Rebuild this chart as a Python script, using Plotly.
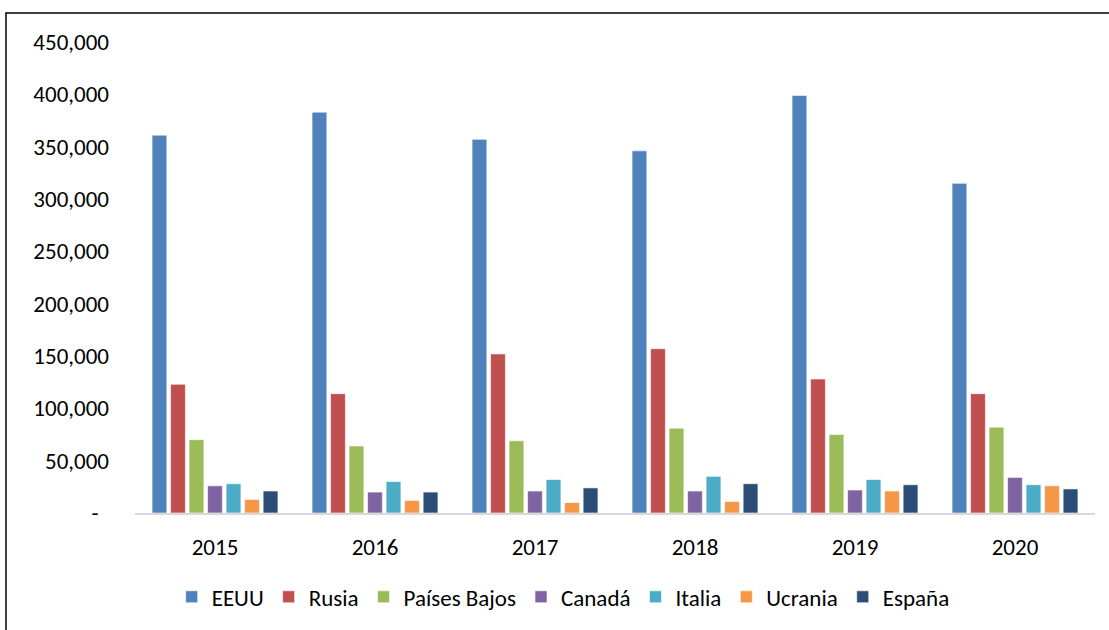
import plotly.graph_objects as go

years = ["2015", "2016", "2017", "2018", "2019", "2020"]
series_names = ["EEUU", "Rusia", "Países Bajos", "Canadá", "Italia", "Ucrania", "España"]
eeuu = [361000, 383000, 357000, 346000, 399000, 315000]
rusia = [123000, 114000, 152000, 157000, 128000, 114000]
paises_bajos = [70000, 64000, 69000, 81000, 75000, 82000]
canada = [26000, 20000, 21000, 21000, 22000, 34000]
italia = [28000, 30000, 32000, 35000, 32000, 27000]
ucrania = [13000, 12000, 10000, 11000, 21000, 26000]
espana = [21000, 20000, 24000, 28000, 27000, 23000]
colors = ["#4F81BD", "#C0504D", "#9BBB59", "#8064A2", "#4BACC6", "#F79646", "#2C4D75"]
y_ticks = [0, 50000, 100000, 150000, 200000, 250000, 300000, 350000, 400000, 450000]
y_ticktext = ["-\u00a0\u00a0", "50,000", "100,000", "150,000", "200,000", "250,000", "300,000",
              "350,000", "400,000", "450,000"]

values = [eeuu, rusia, paises_bajos, canada, italia, ucrania, espana]
font = "Carlito, Calibri, 'Liberation Sans', sans-serif"

fig = go.Figure()
for name, vals, c in zip(series_names, values, colors):
    fig.add_trace(go.Bar(x=years, y=vals, name=name,
                         marker=dict(color=c, line=dict(color="rgba(255,255,255,0.6)", width=1))))

fig.update_layout(
    width=1109, height=630,
    margin=dict(l=135, r=14, t=42, b=115),
    paper_bgcolor="white", plot_bgcolor="white",
    barmode="group", bargap=0.19, bargroupgap=0.2,
    font=dict(family=font, size=23, color="#000000"),
    showlegend=True,
    legend=dict(orientation="h", x=0.446, xanchor="center", y=-0.178, yanchor="middle",
                font=dict(size=23), itemwidth=30, tracegroupgap=0,
                bgcolor="rgba(0,0,0,0)"),
    xaxis=dict(showgrid=False, showline=True, linecolor="#D9D9D9", linewidth=2,
               ticks="", tickfont=dict(size=23), ticklabelstandoff=12),
    yaxis=dict(range=[0, 450000], tickvals=y_ticks, ticktext=y_ticktext,
               showgrid=False, zeroline=False, showline=False, ticks="",
               tickfont=dict(size=23), ticklabelstandoff=25),
)

fig.add_shape(type="rect", xref="paper", yref="paper",
              x0=(6 - 135) / 960, x1=(1115 - 135) / 960,
              y0=(515 - 640) / 473, y1=(515 - 13) / 473,
              line=dict(color="black", width=1.5), fillcolor="rgba(0,0,0,0)", layer="below")

fig.write_html("out.html", config={"displayModeBar": False},
               post_script="document.body.style.margin='0';document.body.style.overflow='hidden';")
